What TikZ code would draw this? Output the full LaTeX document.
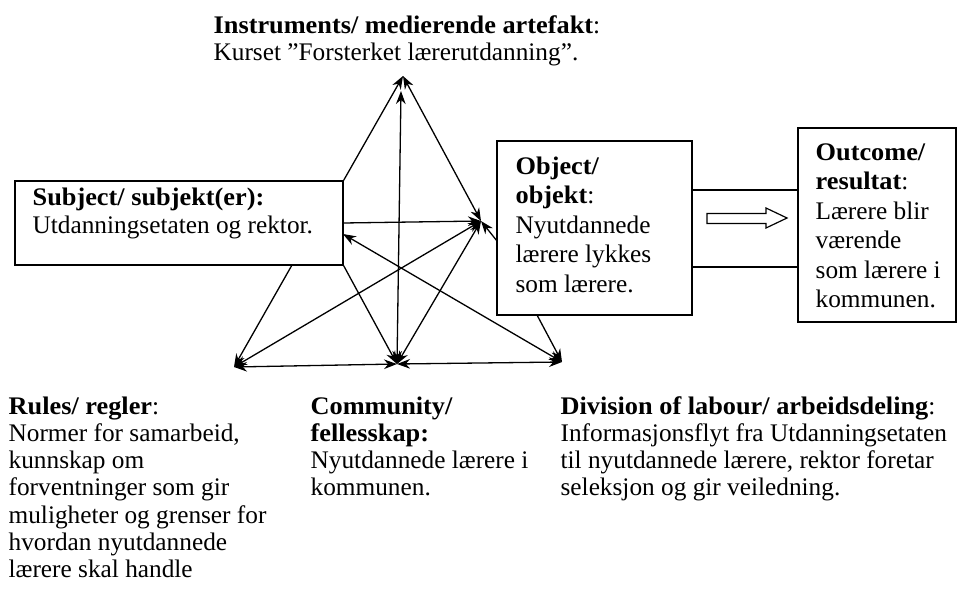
\documentclass[tikz,border=0pt]{standalone}
\usepackage{fontspec}
\setmainfont[BoldFeatures={FakeStretch=1.04}]{Liberation Serif}
\usetikzlibrary{arrows.meta}
\begin{document}
\begin{tikzpicture}[x=0.5pt,y=-0.5pt,
  line width=0.65pt,
  tip/.style={-{Stealth[length=6.5pt,width=4.8pt]}},
  twotip/.style={{Stealth[length=6.5pt,width=4.8pt]}-{Stealth[length=6.5pt,width=4.8pt]}},
  box/.style={draw, rectangle, inner sep=0pt},
  % text blocks are placed by the baseline of their last line
  txt/.style={anchor=base west, inner sep=0pt, align=left,
    font=\fontsize{12.65pt}{13.65pt}\selectfont},
  boxtxt/.style={txt, font=\fontsize{12.65pt}{14.75pt}\selectfont}]
\useasboundingbox (0,0) rectangle (958,595);

% boxes
\node[box, minimum width=164pt, minimum height=42pt] (subj) at (179,223) {};
\node[box, minimum width=97.5pt, minimum height=87pt] (obj) at (594.5,228) {};
\node[box, minimum width=79pt, minimum height=97pt] (out) at (877,225) {};

% hubs of the triangle
\coordinate (T) at (403,76);
\coordinate (Tv) at (401,91);
\coordinate (O) at (481,221);
\coordinate (BL) at (234,367);
\coordinate (BM) at (397,364);
\coordinate (BR) at (562,362);

% attachment points on the boxes
\coordinate (sE) at (343,223);
\coordinate (sE2) at (343,234);
\coordinate (sS) at (292,265);
\coordinate (oW) at (497,241);
\coordinate (oS) at (537,315);

% connectors
\draw[tip] (subj.north east) -- (T);
\draw[twotip] (T) -- (O);
\draw[twotip] (Tv) -- (BM);
\draw[tip] (sE) -- (O);
\draw[twotip] (sE2) -- (BR);
\draw[twotip] (BL) -- (O);
\draw[twotip] (BM) -- (O);
\draw[tip] (sS) -- (BL);
\draw[tip] (subj.south east) -- (BM);
\draw[twotip] (BL) -- (BM);
\draw[twotip] (BM) -- (BR);
\draw[tip] (oS) -- (BR);
\draw[tip] (oW) -- (O);

% link between object and outcome
\draw (obj.east |- 0,190) -- (out.west |- 0,190);
\draw (obj.east |- 0,267) -- (out.west |- 0,267);
\draw[line width=0.6pt] (707,213.5) -- (766,213.5) -- (766,208) -- (787,218)
  -- (766,228) -- (766,223.5) -- (707,223.5) -- cycle;

% labels
\node[txt] (instr) at (213,60.3) {\textbf{Instruments/ medierende artefakt}:\\Kurset ”Forsterket lærerutdanning”.};
\node[txt, font=\fontsize{12.65pt}{14pt}\selectfont] (subjtxt) at (32,233) {\textbf{Subject/ subjekt(er):}\\Utdanningsetaten og rektor.};
\node[boxtxt] (objtxt) at (515,292) {\textbf{Object/}\\\textbf{objekt}:\\Nyutdannede\\lærere lykkes\\som lærere.};
\node[boxtxt] (outtxt) at (815,307.5) {\textbf{Outcome/}\\\textbf{resultat}:\\Lærere blir\\værende\\som lærere i\\kommunen.};
\node[txt] (rules) at (8,577.8) {\textbf{Rules/ regler}:\\Normer for samarbeid,\\kunnskap om\\forventninger som gir\\muligheter og grenser for\\hvordan nyutdannede\\lærere skal handle};
\node[txt] (comm) at (310,495.9) {\textbf{Community/}\\\textbf{fellesskap:}\\Nyutdannede lærere i\\kommunen.};
\node[txt] (div) at (560,495.9) {\textbf{Division of labour/ arbeidsdeling}:\\Informasjonsflyt fra Utdanningsetaten\\til nyutdannede lærere, rektor foretar\\seleksjon og gir veiledning.};
\end{tikzpicture}
\end{document}
